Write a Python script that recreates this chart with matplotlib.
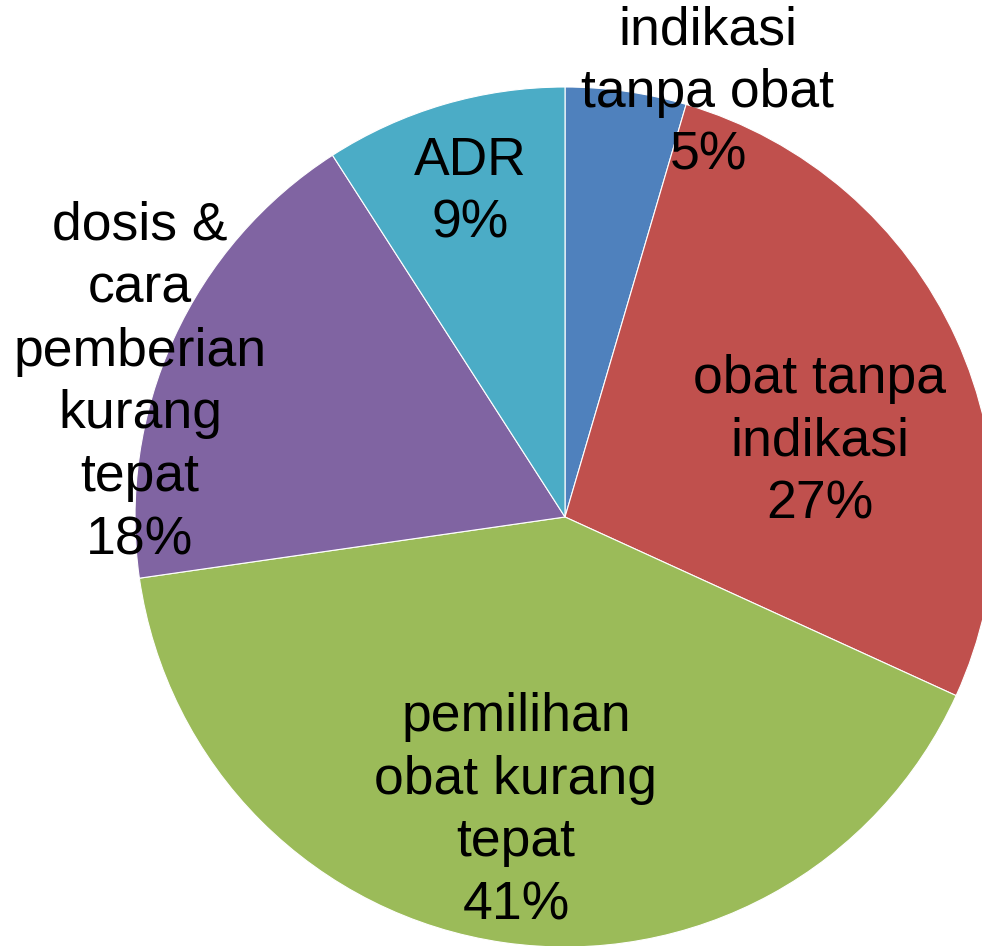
import matplotlib.pyplot as plt

plt.rcParams['font.family'] = ['Liberation Sans', 'DejaVu Sans']

# counts per category (total 22)
categories = ['indikasi\ntanpa obat', 'obat tanpa\nindikasi', 'pemilihan\nobat kurang\ntepat',
              'dosis &\ncara\npemberian\nkurang\ntepat', 'ADR']
counts = [1, 6, 9, 4, 2]
colors = ['#4F81BD', '#C0504D', '#9BBB59', '#8064A2', '#4BACC6']

# label centres in pixel coords (x from left, y from top)
label_pos = [(708, 93), (820, 442), (516, 811), (140, 383), (470, 192)]

W, H = 982, 946
fig = plt.figure(figsize=(W / 100, H / 100), dpi=100)
ax = fig.add_axes([0, 0, 1, 1])
ax.pie(counts, colors=colors, startangle=90, counterclock=False,
       center=(565, H - 517), radius=430,
       wedgeprops=dict(edgecolor='white', linewidth=0.8))
ax.set_xlim(0, W)
ax.set_ylim(0, H)
ax.set_aspect('equal')
ax.axis('off')

total = sum(counts)
for name, c, (x, y) in zip(categories, counts, label_pos):
    pct = round(100 * c / total + 1e-9)
    ax.text(x, H - y, f'{name}\n{pct:.0f}%', ha='center', va='center',
            fontsize=38.5, linespacing=1.33, color='black')

fig.savefig('out.png', dpi=100)
